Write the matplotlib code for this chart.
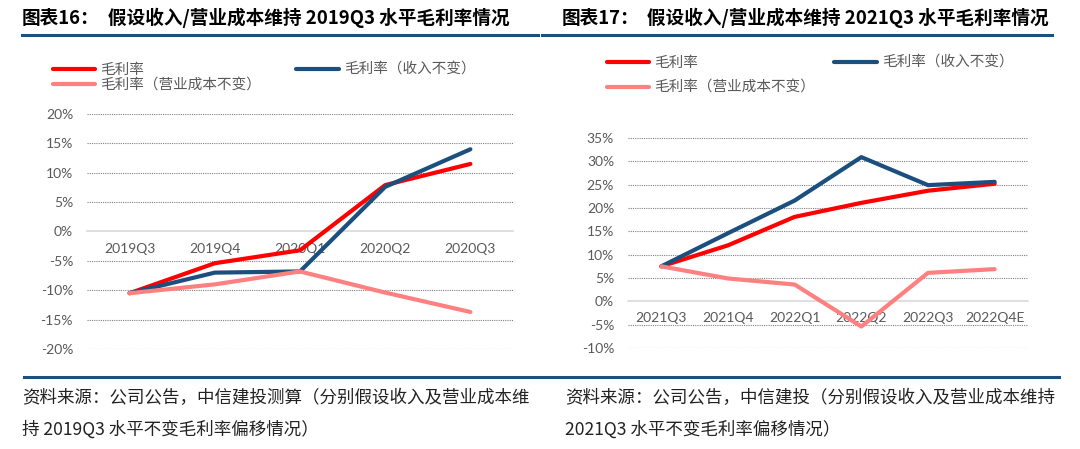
import matplotlib
matplotlib.use('Agg')
import matplotlib.pyplot as plt
from matplotlib.lines import Line2D
from matplotlib.ticker import FuncFormatter

plt.rcParams['font.family'] = ['Noto Sans CJK SC', 'DejaVu Sans']

W, H = 1080, 449

RED = '#FF0000'
BLUE = '#1B4F7E'
PINK = '#FF8080'
GREY = '#595959'

labels = ['毛利率', '毛利率（收入不变）', '毛利率（营业成本不变）']

# 图表16
quarters_16 = ['2019Q3', '2019Q4', '2020Q1', '2020Q2', '2020Q3']
gross_16 = [-10.5, -5.4, -3.2, 7.9, 11.5]
rev_const_16 = [-10.5, -7.0, -6.8, 7.6, 14.0]
cost_const_16 = [-10.5, -9.0, -6.8, -10.4, -13.7]
yticks_16 = [-20, -15, -10, -5, 0, 5, 10, 15, 20]

# 图表17
quarters_17 = ['2021Q3', '2021Q4', '2022Q1', '2022Q2', '2022Q3', '2022Q4E']
gross_17 = [7.5, 12.0, 18.1, 21.1, 23.7, 25.2]
rev_const_17 = [7.5, 14.6, 21.6, 30.9, 24.9, 25.6]
cost_const_17 = [7.5, 4.9, 3.6, -5.4, 6.1, 6.9]
yticks_17 = [-10, -5, 0, 5, 10, 15, 20, 25, 30, 35]


def px_axes(fig, x0, y_top, x1, y_bot):
    return fig.add_axes([x0 / W, 1 - y_bot / H, (x1 - x0) / W, (y_bot - y_top) / H])


def hline(fig, x0, x1, y, lw):
    fig.add_artist(Line2D([x0 / W, x1 / W], [1 - y / H, 1 - y / H], color=BLUE, lw=lw))


def draw_panel(ax, cats, gross, rev_const, cost_const, yticks):
    x = list(range(len(cats)))
    for vals, color in [(gross, RED), (rev_const, BLUE), (cost_const, PINK)]:
        ax.plot(x, vals, color=color, lw=3, solid_capstyle='round', solid_joinstyle='round', zorder=3)
    ax.set_xlim(-0.5, len(cats) - 0.5)
    ax.set_ylim(yticks[0], yticks[-1])
    ax.set_yticks(yticks)
    ax.yaxis.set_major_formatter(FuncFormatter(lambda v, _: f'{v:.0f}%'))
    ax.set_xticks(x)
    ax.set_xticklabels(cats)
    for s in ['top', 'right', 'left']:
        ax.spines[s].set_visible(False)
    ax.spines['bottom'].set_position(('data', 0))
    ax.spines['bottom'].set_color('#D9D9D9')
    ax.spines['bottom'].set_linewidth(1.2)
    ax.tick_params(length=0, labelsize=10, labelcolor=GREY, labelfontfamily='Lato')
    ax.tick_params(axis='y', pad=10)
    ax.tick_params(axis='x', pad=8)
    ax.grid(axis='y', color='#808080', linestyle=(0, (1, 1)), linewidth=0.8)
    ax.set_axisbelow(True)
    for t, gl in zip(yticks, ax.yaxis.get_gridlines()):
        if t == 0:
            gl.set_visible(False)
    ax.patch.set_visible(False)


def legend_handles():
    return [Line2D([], [], color=c, lw=3, solid_capstyle='round') for c in (RED, PINK, BLUE)]


fig = plt.figure(figsize=(W / 100, H / 100), dpi=100)

ax1 = px_axes(fig, 87, 114, 513, 349)
draw_panel(ax1, quarters_16, gross_16, rev_const_16, cost_const_16, yticks_16)

ax2 = px_axes(fig, 628, 138, 1028, 348)
draw_panel(ax2, quarters_17, gross_17, rev_const_17, cost_const_17, yticks_17)

order = [labels[0], labels[2], labels[1]]
fig.legend(legend_handles(), order, ncol=2, loc='upper left', bbox_to_anchor=(53 / W, 1 - 63 / H),
           frameon=False, fontsize=10.5, handlelength=2.9, handletextpad=0.35, columnspacing=2.4,
           labelspacing=0.1, borderpad=0, borderaxespad=0, labelcolor=GREY)
fig.legend(legend_handles(), order, ncol=2, loc='upper left', bbox_to_anchor=(607 / W, 1 - 56 / H),
           frameon=False, fontsize=10.5, handlelength=2.9, handletextpad=0.35, columnspacing=1.3,
           labelspacing=0.75, borderpad=0, borderaxespad=0, labelcolor=GREY)

# titles
fig.text(22 / W, 1 - 18 / H, '图表16：', fontsize=13.4, fontweight='bold', va='center')
fig.text(108 / W, 1 - 18 / H, '假设收入/营业成本维持 2019Q3 水平毛利率情况', fontsize=13.4, fontweight='bold', va='center')
fig.text(562 / W, 1 - 18 / H, '图表17：', fontsize=13.4, fontweight='bold', va='center')
fig.text(647 / W, 1 - 18 / H, '假设收入/营业成本维持 2021Q3 水平毛利率情况', fontsize=13.4, fontweight='bold', va='center')

hline(fig, 22, 538, 35, 2.2)
hline(fig, 542, 1052, 35, 2.2)
hline(fig, 24, 1059, 377, 2.2)

# sources
fig.text(22 / W, 1 - 398 / H, '资料来源：公司公告，中信建投测算（分别假设收入及营业成本维', fontsize=12.6, color='#222222', va='center')
fig.text(22 / W, 1 - 430 / H, '持 2019Q3 水平不变毛利率偏移情况）', fontsize=12.6, color='#222222', va='center')
fig.text(565 / W, 1 - 398 / H, '资料来源：公司公告，中信建投（分别假设收入及营业成本维持', fontsize=12.6, color='#222222', va='center')
fig.text(565 / W, 1 - 430 / H, '2021Q3 水平不变毛利率偏移情况）', fontsize=12.6, color='#222222', va='center')

fig.savefig('out.png', dpi=100)
